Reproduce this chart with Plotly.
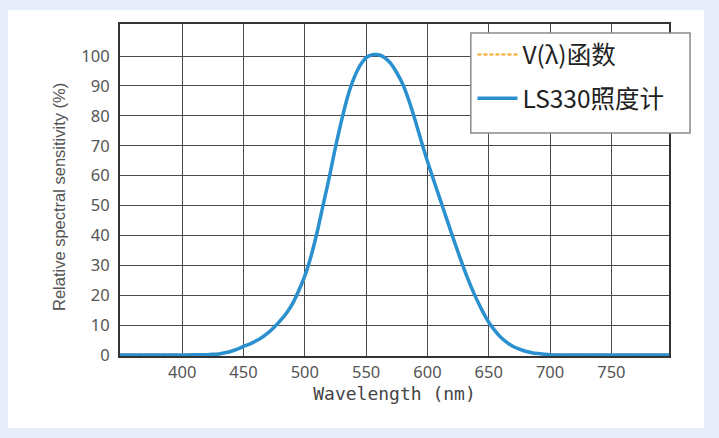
import plotly.graph_objects as go

# Wavelength grid (nm)
wavelength = [349, 360, 380, 400, 410, 420, 425, 430, 435, 440, 445, 450, 455, 460, 465,
              470, 475, 480, 485, 490, 495, 500, 505, 510, 515, 520, 525, 530, 535,
              540, 545, 550, 555, 560, 565, 570, 575, 580, 585, 590, 595, 600, 605,
              610, 615, 620, 625, 630, 635, 640, 645, 650, 655, 660, 665, 670, 675,
              680, 685, 690, 695, 700, 710, 720, 740, 760, 780, 797]

# LS330 illuminance meter relative sensitivity (%)
ls330 = [0, 0, 0, 0.03, 0.08, 0.15, 0.25, 0.4, 0.8, 1.3, 2.0, 2.9, 3.7, 4.7, 5.9,
         7.4, 9.3, 11.5, 14.0, 17.2, 21.5, 26.5, 33.0, 41.0, 50.3, 59.5, 69.5, 78.5, 86.5,
         92.5, 96.8, 99.4, 100.4, 100.4, 99.5, 97.5, 94.4, 90.5, 85.0, 78.5, 71.5, 64.8, 58.6,
         52.5, 46.4, 40.3, 34.4, 28.7, 23.5, 18.8, 14.6, 11.0, 8.2, 5.9, 4.2, 2.9, 2.0,
         1.3, 0.8, 0.5, 0.3, 0.15, 0.05, 0.02, 0.02, 0.02, 0.02, 0.02]

# CIE V(lambda) function (%)
v_lambda = [0.3, 0.3, 0.3, 0.3, 0.3, 0.3, 0.35, 0.5, 0.85, 1.3, 2.0, 2.9, 3.7, 4.6, 5.8,
            7.3, 9.1, 11.3, 13.7, 16.7, 20.8, 25.8, 32.4, 40.6, 50.3, 59.5, 69.5, 78.5, 86.5,
            92.5, 96.8, 99.5, 100.4, 100.4, 99.5, 97.5, 94.4, 90.5, 85.0, 78.5, 71.5, 64.8, 58.6,
            52.5, 46.4, 40.3, 34.4, 28.7, 23.5, 18.8, 14.6, 11.0, 8.2, 5.9, 4.2, 2.9, 2.0,
            1.3, 0.85, 0.55, 0.4, 0.3, 0.3, 0.3, 0.3, 0.3, 0.3, 0.3]

x_ticks = [400, 450, 500, 550, 600, 650, 700, 750]
y_ticks = [0, 10, 20, 30, 40, 50, 60, 70, 80, 90, 100]

fig = go.Figure()
fig.add_trace(go.Scatter(
    x=wavelength, y=v_lambda, mode="lines", name="V(λ)函数",
    line=dict(color="#f5a623", width=2, dash="4px,2px", shape="spline", smoothing=0.8),
    legendgroup="a",
))
fig.add_trace(go.Scatter(
    x=wavelength, y=ls330, mode="lines", name="LS330照度计",
    line=dict(color="#2a90cf", width=3.5, shape="spline", smoothing=0.8),
    legendgroup="b",
))

# outer card background
fig.add_shape(type="rect", xref="paper", yref="paper",
              x0=-0.204, x1=1.0638, y0=-0.217, y1=1.042,
              fillcolor="white", line=dict(width=0), layer="below")
# legend box
fig.add_shape(type="rect", xref="paper", yref="paper",
              x0=0.639, x1=1.0383, y0=0.6717, y1=0.973,
              fillcolor="white", line=dict(color="#8a8a8a", width=1.5), layer="above")

# y axis title
fig.add_annotation(text="Relative spectral sensitivity (%)", xref="paper", yref="paper",
                   x=-0.111, y=0.479, textangle=-90, showarrow=False,
                   xanchor="center", yanchor="middle",
                   font=dict(family="Liberation Sans", size=16.5, color="#555555"))

axis_common = dict(
    showline=True, linecolor="#333333", linewidth=2, mirror=True,
    showgrid=True, gridcolor="#4a4a4a", gridwidth=1.3,
    zeroline=False, ticks="", layer="below traces",
    tickfont=dict(family="Noto Sans", size=16.5, color="#555555"),
)

fig.update_xaxes(
    range=[349.3, 797], tickvals=x_ticks, ticklabelstandoff=0,
    title=dict(text="Wavelength (nm)", standoff=0,
               font=dict(family="DejaVu Sans Mono", size=18, color="#444444")),
    **axis_common,
)
fig.update_yaxes(
    range=[-0.3, 110.7], tickvals=y_ticks, ticklabelstandoff=5,
    **axis_common,
)

fig.update_layout(
    width=719, height=438,
    margin=dict(l=120, r=50, t=24, b=82),
    paper_bgcolor="#e6edf9", plot_bgcolor="white",
    showlegend=True,
    legend=dict(
        x=0.642, y=0.976, xanchor="left", yanchor="top",
        bgcolor="rgba(0,0,0,0)", borderwidth=0,
        font=dict(family="Noto Sans CJK SC", size=24.5, color="#222222"),
        tracegroupgap=9, itemwidth=40,
    ),
)

fig.write_html("out.html", config={"displayModeBar": False},
               post_script="document.body.style.margin='0';")
